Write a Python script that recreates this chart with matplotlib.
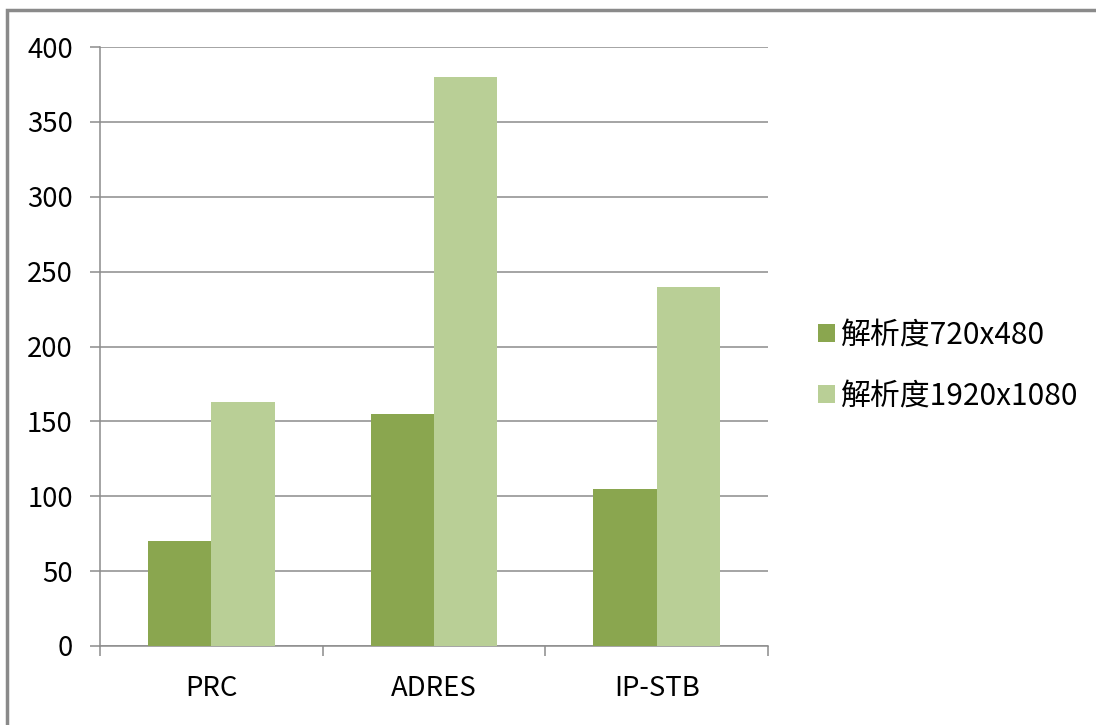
import numpy as np
import matplotlib.pyplot as plt
from matplotlib.patches import Rectangle

plt.rcParams['font.family'] = ['Noto Sans CJK TC', 'DejaVu Sans']

categories = ['PRC', 'ADRES', 'IP-STB']
res_720 = [70, 155, 105]
res_1080 = [163, 380, 240]
series_names = ['解析度720x480', '解析度1920x1080']
yticks = [0, 50, 100, 150, 200, 250, 300, 350, 400]

c_dark = '#8aa64f'
c_light = '#b9cf96'
grid_c = '#8c8c8c'

fig = plt.figure(figsize=(10.96, 7.25), dpi=100)
ax = fig.add_axes([0.0912, 0.109, 0.6095, 0.826])

x = np.arange(len(categories))
w = 0.284
ax.bar(x - w/2, res_720, w, color=c_dark, label=series_names[0], zorder=3)
ax.bar(x + w/2, res_1080, w, color=c_light, label=series_names[1], zorder=3)

ax.set_xlim(-0.5, len(categories) - 0.5)
ax.set_ylim(0, 400)
ax.set_yticks(yticks)
ax.yaxis.grid(True, color=grid_c, lw=1.1, zorder=0)
ax.set_axisbelow(True)

ax.set_xticks(x)
ax.set_xticklabels(categories)
ax.set_xticks(np.arange(len(categories) + 1) - 0.5, minor=True)
ax.tick_params(axis='x', which='major', length=0, pad=21, labelsize=19.8)
ax.tick_params(axis='x', which='minor', length=7.5, width=1.1, color=grid_c, direction='out')
ax.tick_params(axis='y', length=7.5, width=1.1, color=grid_c, pad=12, labelsize=19.8)

for s in ['top', 'right']:
    ax.spines[s].set_visible(False)
ax.spines['left'].set_color(grid_c)
ax.spines['bottom'].set_color(grid_c)
ax.spines['left'].set_linewidth(1.1)
ax.spines['bottom'].set_linewidth(1.1)

leg = ax.legend(loc='center left', bbox_to_anchor=(1.075, 0.468), frameon=False,
                fontsize=21.5, handlelength=0.57, handleheight=0.57, handletextpad=0.17,
                labelspacing=1.0, borderpad=0, borderaxespad=0)

# outer chart border (only top and left are visible in the crop)
fig.patches.append(Rectangle((0.0065, -0.05), 1.1, 1.036, transform=fig.transFigure,
                             fill=False, edgecolor='#8a8a8a', lw=2.5))

plt.savefig('out.png', dpi=100)
